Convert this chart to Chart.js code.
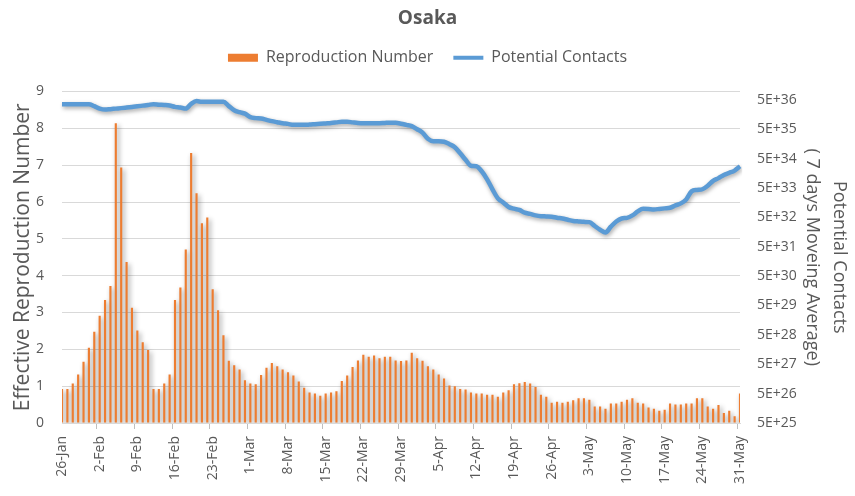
<!DOCTYPE html>
<html>
<head>
<meta charset="utf-8">
<script src="https://cdn.jsdelivr.net/npm/chart.js@4.4.1/dist/chart.umd.min.js"></script>
<style>
  html, body { margin: 0; padding: 0; background: #fff; }
  canvas { display: block; }
</style>
</head>
<body>
<canvas id="chart" width="855" height="496"></canvas>
<script>
// one label per day, 26-Jan .. 31-May (2020)
const days = [
  '26-Jan', '27-Jan', '28-Jan', '29-Jan', '30-Jan', '31-Jan',
  '1-Feb', '2-Feb', '3-Feb', '4-Feb', '5-Feb', '6-Feb', '7-Feb', '8-Feb', '9-Feb', '10-Feb',
  '11-Feb', '12-Feb', '13-Feb', '14-Feb', '15-Feb', '16-Feb', '17-Feb', '18-Feb', '19-Feb', '20-Feb',
  '21-Feb', '22-Feb', '23-Feb', '24-Feb', '25-Feb', '26-Feb', '27-Feb', '28-Feb', '29-Feb',
  '1-Mar', '2-Mar', '3-Mar', '4-Mar', '5-Mar', '6-Mar', '7-Mar', '8-Mar', '9-Mar', '10-Mar',
  '11-Mar', '12-Mar', '13-Mar', '14-Mar', '15-Mar', '16-Mar', '17-Mar', '18-Mar', '19-Mar', '20-Mar',
  '21-Mar', '22-Mar', '23-Mar', '24-Mar', '25-Mar', '26-Mar', '27-Mar', '28-Mar', '29-Mar', '30-Mar', '31-Mar',
  '1-Apr', '2-Apr', '3-Apr', '4-Apr', '5-Apr', '6-Apr', '7-Apr', '8-Apr', '9-Apr', '10-Apr',
  '11-Apr', '12-Apr', '13-Apr', '14-Apr', '15-Apr', '16-Apr', '17-Apr', '18-Apr', '19-Apr', '20-Apr',
  '21-Apr', '22-Apr', '23-Apr', '24-Apr', '25-Apr', '26-Apr', '27-Apr', '28-Apr', '29-Apr', '30-Apr',
  '1-May', '2-May', '3-May', '4-May', '5-May', '6-May', '7-May', '8-May', '9-May', '10-May',
  '11-May', '12-May', '13-May', '14-May', '15-May', '16-May', '17-May', '18-May', '19-May', '20-May',
  '21-May', '22-May', '23-May', '24-May', '25-May', '26-May', '27-May', '28-May', '29-May', '30-May', '31-May',
];

const reproduction = [
  0.92, 0.92, 1.07, 1.32, 1.66, 2.04, 2.48, 2.91, 3.34, 3.72,
  8.14, 6.94, 4.37, 3.13, 2.51, 2.19, 1.98, 0.92, 0.92, 1.07,
  1.32, 3.34, 3.68, 4.71, 7.33, 6.24, 5.42, 5.58, 3.63, 3.06,
  2.38, 1.69, 1.57, 1.45, 1.16, 1.07, 1.05, 1.30, 1.50, 1.63,
  1.54, 1.45, 1.38, 1.29, 1.13, 0.96, 0.83, 0.80, 0.74, 0.80,
  0.83, 0.86, 1.14, 1.29, 1.52, 1.70, 1.85, 1.80, 1.83, 1.76,
  1.80, 1.80, 1.70, 1.68, 1.70, 1.91, 1.76, 1.69, 1.54, 1.45,
  1.32, 1.21, 1.02, 1.00, 0.92, 0.91, 0.83, 0.80, 0.80, 0.77,
  0.77, 0.71, 0.83, 0.89, 1.05, 1.08, 1.11, 1.07, 0.98, 0.77,
  0.71, 0.55, 0.58, 0.55, 0.58, 0.62, 0.67, 0.67, 0.63, 0.45,
  0.45, 0.39, 0.53, 0.53, 0.58, 0.63, 0.67, 0.55, 0.53, 0.42,
  0.39, 0.33, 0.36, 0.53, 0.50, 0.50, 0.53, 0.53, 0.67, 0.67,
  0.45, 0.39, 0.49, 0.27, 0.33, 0.18, 0.80,
];

// 7 days moving average, right log axis
const contacts = [
  3.56e36, 3.56e36, 3.56e36, 3.56e36, 3.56e36, 3.56e36, 3.05e36, 2.52e36, 2.32e36, 2.41e36,
  2.51e36, 2.61e36, 2.73e36, 2.86e36, 3.00e36, 3.17e36, 3.35e36, 3.56e36, 3.43e36, 3.33e36,
  3.19e36, 2.88e36, 2.73e36, 2.51e36, 3.65e36, 4.52e36, 4.28e36, 4.28e36, 4.28e36, 4.28e36,
  4.28e36, 3.05e36, 2.22e36, 1.90e36, 1.69e36, 1.29e36, 1.19e36, 1.15e36, 1.04e36, 9.38e35,
  8.67e35, 8.02e35, 7.59e35, 7.02e35, 7.02e35, 7.02e35, 7.18e35, 7.41e35, 7.64e35, 7.89e35,
  8.15e35, 8.53e35, 8.95e35, 8.95e35, 8.53e35, 8.15e35, 8.02e35, 8.02e35, 8.02e35, 8.02e35,
  8.20e35, 8.34e35, 8.26e35, 7.71e35, 7.02e35, 6.38e35, 5.00e35, 3.83e35, 2.35e35, 1.95e35,
  1.95e35, 1.87e35, 1.54e35, 1.22e35, 7.59e34, 4.55e34, 2.84e34, 2.73e34, 1.85e34, 9.84e33,
  4.48e33, 2.21e33, 1.61e33, 1.13e33, 9.84e32, 8.95e32, 7.18e32, 6.58e32, 5.85e32, 5.46e32,
  5.37e32, 5.24e32, 4.84e32, 4.58e32, 4.14e32, 3.77e32, 3.62e32, 3.51e32, 3.43e32, 2.54e32,
  1.89e32, 1.53e32, 2.41e32, 3.62e32, 4.58e32, 4.81e32, 5.81e32, 7.94e32, 9.75e32, 9.60e32,
  9.31e32, 9.67e32, 1.01e33, 1.06e33, 1.27e33, 1.49e33, 2.04e33, 3.83e33, 4.28e33, 4.52e33,
  5.94e33, 8.73e33, 1.08e34, 1.39e34, 1.64e34, 1.95e34, 2.73e34,
];

const contactTicks = [5e25, 5e26, 5e27, 5e28, 5e29, 5e30, 5e31, 5e32, 5e33, 5e34, 5e35, 5e36];

const FONT = '"Open Sans", sans-serif';
const GREY = '#595959';
const ORANGE = '#ED7D31';
const BLUE = '#5B9BD5';

// soft drop shadow like the office chart effect
const shadowPlugin = {
  id: 'shadow',
  beforeDatasetDraw(chart, args) {
    const { ctx } = chart;
    ctx.save();
    if (args.index === 0) {
      ctx.shadowColor = 'rgba(0, 0, 0, 0.45)';
      ctx.shadowBlur = 5;
      ctx.shadowOffsetX = 2;
      ctx.shadowOffsetY = 2;
    } else {
      ctx.shadowColor = 'rgba(0, 0, 0, 0.35)';
      ctx.shadowBlur = 4;
      ctx.shadowOffsetX = 1;
      ctx.shadowOffsetY = 2;
    }
  },
  afterDatasetDraw(chart) {
    chart.ctx.restore();
  },
};

// empty box between legend and plot
const spacerPlugin = {
  id: 'spacer',
  beforeInit(chart) {
    Chart.layouts.addBox(chart, {
      position: 'top',
      weight: -10,
      fullSize: true,
      options: {},
      isHorizontal() { return true; },
      update(maxWidth) {
        this.width = maxWidth;
        this.height = 15.7;
      },
      draw() {},
    });
  },
};

new Chart(document.getElementById('chart').getContext('2d'), {
  data: {
    labels: days,
    datasets: [
      {
        type: 'bar',
        label: 'Reproduction Number',
        data: reproduction,
        backgroundColor: ORANGE,
        borderWidth: 0,
        barPercentage: 0.4,
        categoryPercentage: 1,
        yAxisID: 'y',
        order: 2,
      },
      {
        type: 'line',
        label: 'Potential Contacts',
        data: contacts,
        borderColor: BLUE,
        backgroundColor: BLUE,
        borderWidth: 4.5,
        pointRadius: 0,
        cubicInterpolationMode: 'monotone',
        fill: false,
        yAxisID: 'y1',
        order: 1,
      },
    ],
  },
  options: {
    responsive: false,
    animation: false,
    layout: { padding: 0 },
    plugins: {
      title: {
        display: true,
        text: 'Osaka',
        color: GREY,
        font: { family: FONT, size: 19, weight: 'bold', lineHeight: 1.2 },
        padding: { top: 7, bottom: 0 },
      },
      legend: {
        labels: {
          color: GREY,
          font: { family: FONT, size: 16 },
          usePointStyle: true,
          pointStyleWidth: 30,
          boxHeight: 8,
          padding: 20,
          sort: (a, b) => a.datasetIndex - b.datasetIndex,
          generateLabels(chart) {
            return Chart.defaults.plugins.legend.labels.generateLabels(chart).map((item) => {
              const isBar = item.datasetIndex === 0;
              item.pointStyle = isBar ? 'rect' : 'line';
              item.lineWidth = isBar ? 0 : 4;
              item.strokeStyle = isBar ? ORANGE : BLUE;
              item.fillStyle = isBar ? ORANGE : BLUE;
              return item;
            });
          },
        },
      },
      tooltip: { enabled: false },
    },
    scales: {
      x: {
        offset: false,
        grid: {
          drawOnChartArea: false,
          drawTicks: true,
          tickLength: 6,
          color: (c) => (c.index % 7 === 0 ? '#BFBFBF' : 'rgba(0,0,0,0)'),
        },
        border: { color: '#D9D9D9' },
        ticks: {
          autoSkip: false,
          minRotation: 90,
          maxRotation: 90,
          padding: 7,
          color: GREY,
          font: { family: FONT, size: 14 },
          callback: (v, i) => (i % 7 === 0 ? days[i] : ''),
        },
        afterFit(scale) { scale.height = 73; },
      },
      y: {
        position: 'left',
        min: 0,
        max: 9,
        ticks: { stepSize: 1, padding: 18, color: GREY, font: { family: FONT, size: 14 } },
        grid: { color: '#D9D9D9', drawTicks: false },
        border: { display: false },
        title: {
          display: true,
          text: 'Effective Reproduction Number',
          color: GREY,
          font: { family: FONT, size: 21 },
          padding: { top: 10 },
        },
        afterFit(scale) { scale.width = 62; },
      },
      y1: {
        type: 'logarithmic',
        position: 'right',
        min: 5e25,
        max: 9.6e36,
        grid: { display: false },
        border: { display: false },
        afterBuildTicks(scale) {
          scale.ticks = contactTicks.map((v) => ({ value: v }));
        },
        ticks: {
          padding: 9,
          color: GREY,
          font: { family: FONT, size: 14 },
          callback: (v) => Number(v).toExponential(0).toUpperCase(),
        },
        title: {
          display: true,
          text: ['Potential Contacts', '( 7 days Moveing Average)'],
          color: GREY,
          font: { family: FONT, size: 18, lineHeight: 1.5 },
          padding: { top: 2 },
        },
        afterFit(scale) { scale.width = 115; },
      },
    },
  },
  plugins: [shadowPlugin, spacerPlugin],
});
</script>
</body>
</html>
